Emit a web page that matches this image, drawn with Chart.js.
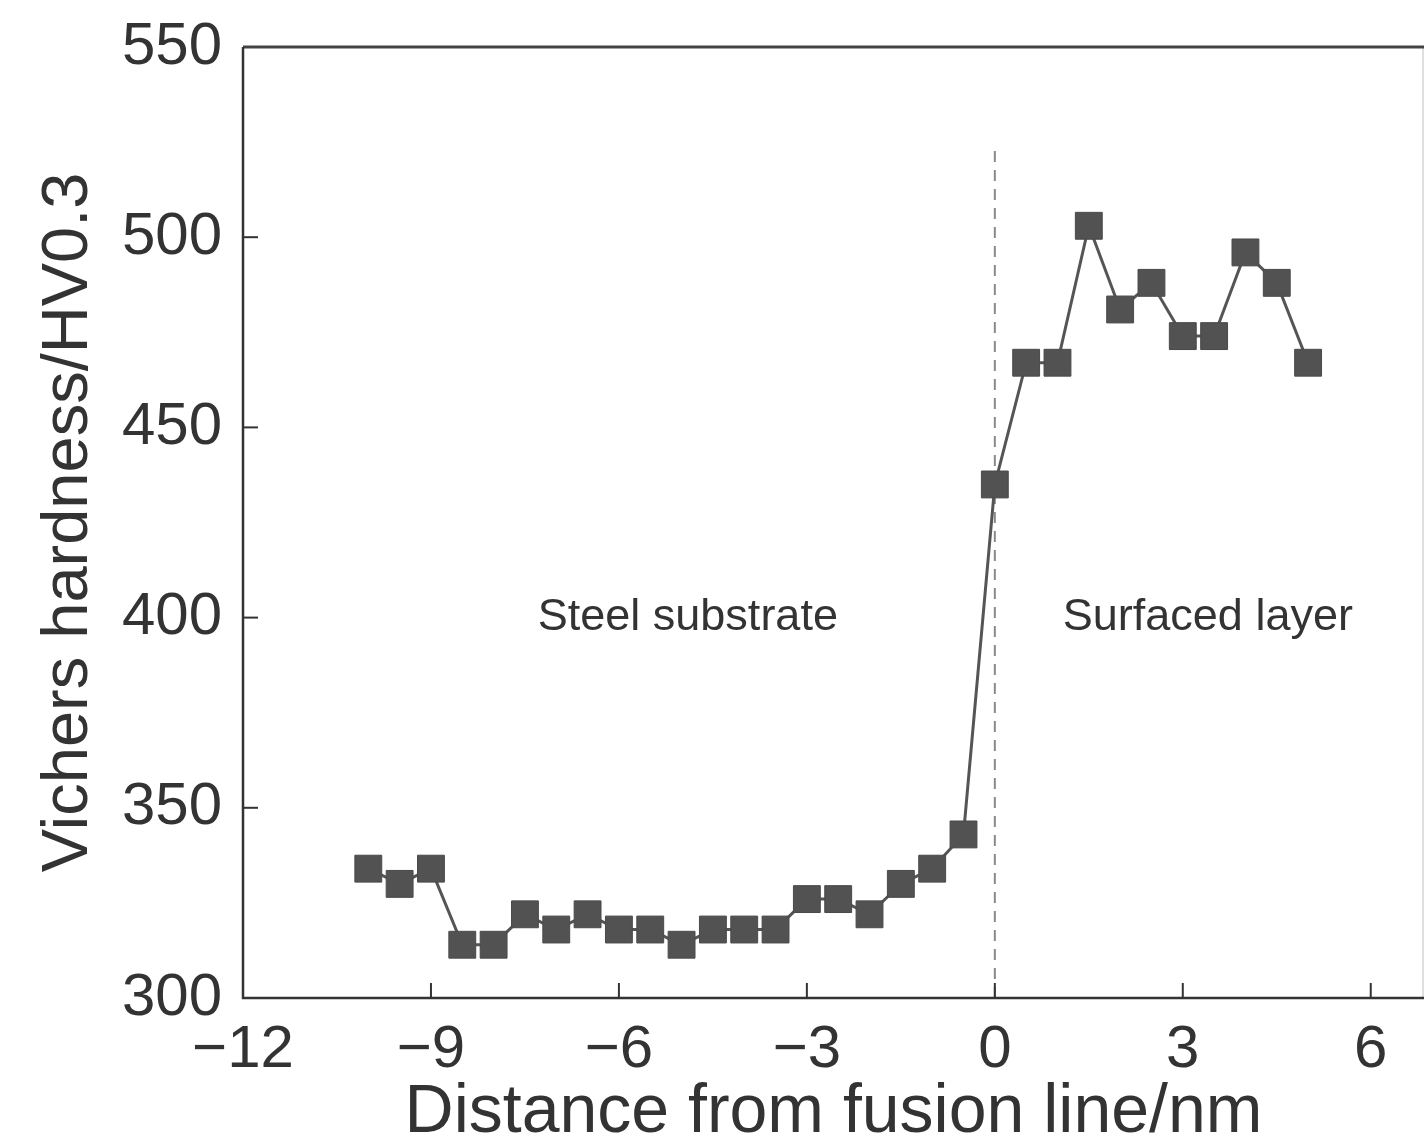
<!DOCTYPE html>
<html>
<head>
<meta charset="utf-8">
<script src="https://cdn.jsdelivr.net/npm/chart.js@4"></script>
<style>
    html, body { margin: 0; padding: 0; background: #ffffff; overflow: hidden; }
    #wrap { width: 1426px; height: 1138px; position: relative; }
</style>
</head>
<body>
<div id="wrap"><canvas id="hardnessChart"></canvas></div>
<script>
// 측정 위치 (mm) 와 경도 값
const distance = [-10, -9.5, -9, -8.5, -8, -7.5, -7, -6.5, -6, -5.5, -5, -4.5, -4, -3.5, -3, -2.5,
                  -2, -1.5, -1, -0.5, 0, 0.5, 1, 1.5, 2, 2.5, 3, 3.5, 4, 4.5, 5];
const hardness = [334, 330, 334, 314, 314, 322, 318, 322, 318, 318, 314, 318, 318, 318, 326, 326,
                  322, 330, 334, 343, 435, 467, 467, 503, 481, 488, 474, 474, 496, 488, 467];

// 용융선 (점선)
const fusionLineX = [0, 0];
const fusionLineY = [300, 524];

// 축 눈금
const xTicks = [-12, -9, -6, -3, 0, 3, 6];
const yTicks = [300, 350, 400, 450, 500, 550];

// 영역 라벨
const regionLabels = ['Steel substrate', 'Surfaced layer'];
const regionLabelX = [-4.9, 3.4];
const regionLabelY = [400, 400];

const FONT = '"Liberation Sans", Arial, Helvetica, sans-serif';
const INK = '#333333';

const fmt = v => (v < 0 ? '\u2212' + Math.abs(v) : String(v));

// 프레임, 안쪽 눈금, 영역 라벨
const framePlugin = {
    id: 'frame',
    afterDraw(chart) {
        const { ctx, chartArea: a, scales } = chart;
        ctx.save();
        ctx.lineCap = 'butt';

        // 오른쪽 테두리 (희미함)
        ctx.strokeStyle = '#d4d4d4';
        ctx.lineWidth = 1.5;
        ctx.beginPath();
        ctx.moveTo(a.right - 1, a.top);
        ctx.lineTo(a.right - 1, a.bottom);
        ctx.stroke();

        // 위쪽 테두리
        ctx.strokeStyle = '#444444';
        ctx.lineWidth = 3;
        ctx.beginPath();
        ctx.moveTo(a.left, a.top);
        ctx.lineTo(a.right, a.top);
        ctx.stroke();

        // 왼쪽, 아래쪽 축
        ctx.strokeStyle = INK;
        ctx.lineWidth = 2.5;
        ctx.beginPath();
        ctx.moveTo(a.left, a.top);
        ctx.lineTo(a.left, a.bottom);
        ctx.lineTo(a.right, a.bottom);
        ctx.stroke();

        // 안쪽 눈금
        ctx.lineWidth = 2;
        xTicks.forEach(v => {
            if (v === scales.x.min) return;
            const px = scales.x.getPixelForValue(v);
            ctx.beginPath();
            ctx.moveTo(px, a.bottom);
            ctx.lineTo(px, a.bottom - 15);
            ctx.stroke();
        });
        yTicks.forEach(v => {
            if (v === scales.y.min || v === scales.y.max) return;
            const py = scales.y.getPixelForValue(v);
            ctx.beginPath();
            ctx.moveTo(a.left, py);
            ctx.lineTo(a.left + 15, py);
            ctx.stroke();
        });

        // 영역 라벨
        ctx.fillStyle = INK;
        ctx.font = '45px ' + FONT;
        ctx.textAlign = 'center';
        ctx.textBaseline = 'middle';
        regionLabels.forEach((t, i) => {
            ctx.fillText(t, scales.x.getPixelForValue(regionLabelX[i]),
                         scales.y.getPixelForValue(regionLabelY[i]));
        });
        ctx.restore();
    }
};

const ctx = document.getElementById('hardnessChart');

new Chart(ctx, {
    type: 'scatter',
    data: {
        datasets: [
            {
                label: 'Fusion line',
                data: fusionLineX.map((x, i) => ({ x: x, y: fusionLineY[i] })),
                showLine: true,
                borderColor: '#8a8a8a',
                borderWidth: 2,
                borderDash: [11, 8],
                pointRadius: 0,
                order: 2
            },
            {
                label: 'Hardness',
                data: distance.map((x, i) => ({ x: x, y: hardness[i] })),
                showLine: true,
                borderColor: '#555555',
                borderWidth: 3,
                pointStyle: 'rect',
                pointRadius: 19,
                pointHoverRadius: 19,
                pointBackgroundColor: '#525252',
                pointBorderColor: '#4a4a4a',
                pointBorderWidth: 1,
                order: 1
            }
        ]
    },
    options: {
        responsive: true,
        maintainAspectRatio: false,
        animation: false,
        events: [],
        layout: {
            autoPadding: false,
            padding: { left: 0, top: 47, right: 2, bottom: 0 }
        },
        plugins: {
            legend: { display: false },
            tooltip: { enabled: false }
        },
        scales: {
            x: {
                type: 'linear',
                min: -12,
                max: 6.85,
                afterBuildTicks: scale => {
                    scale.ticks = xTicks.map(v => ({ value: v }));
                },
                afterFit: scale => {
                    scale.height = 140;
                    scale.paddingLeft = 0;
                    scale.paddingRight = 0;
                },
                grid: { display: false, drawTicks: false },
                border: { display: false },
                ticks: {
                    callback: v => fmt(v),
                    color: INK,
                    padding: 16,
                    maxRotation: 0,
                    autoSkip: false,
                    font: { family: FONT, size: 60 }
                },
                title: {
                    display: true,
                    text: 'Distance from fusion line/nm',
                    color: INK,
                    padding: { top: 0, bottom: -9 },
                    font: { family: FONT, size: 68, lineHeight: 1 }
                }
            },
            y: {
                type: 'linear',
                min: 300,
                max: 550,
                afterBuildTicks: scale => {
                    scale.ticks = yTicks.map(v => ({ value: v }));
                },
                afterFit: scale => {
                    scale.width = 243;
                    scale.paddingTop = 0;
                    scale.paddingBottom = 0;
                },
                grid: { display: false, drawTicks: false },
                border: { display: false },
                ticks: {
                    callback: v => fmt(v),
                    color: INK,
                    padding: 21,
                    font: { family: FONT, size: 60 }
                },
                title: {
                    display: true,
                    text: 'Vichers hardness/HV0.3',
                    color: INK,
                    padding: { top: 37, bottom: 0 },
                    font: { family: FONT, size: 65, lineHeight: 1 }
                }
            }
        }
    },
    plugins: [framePlugin]
});
</script>
</body>
</html>
